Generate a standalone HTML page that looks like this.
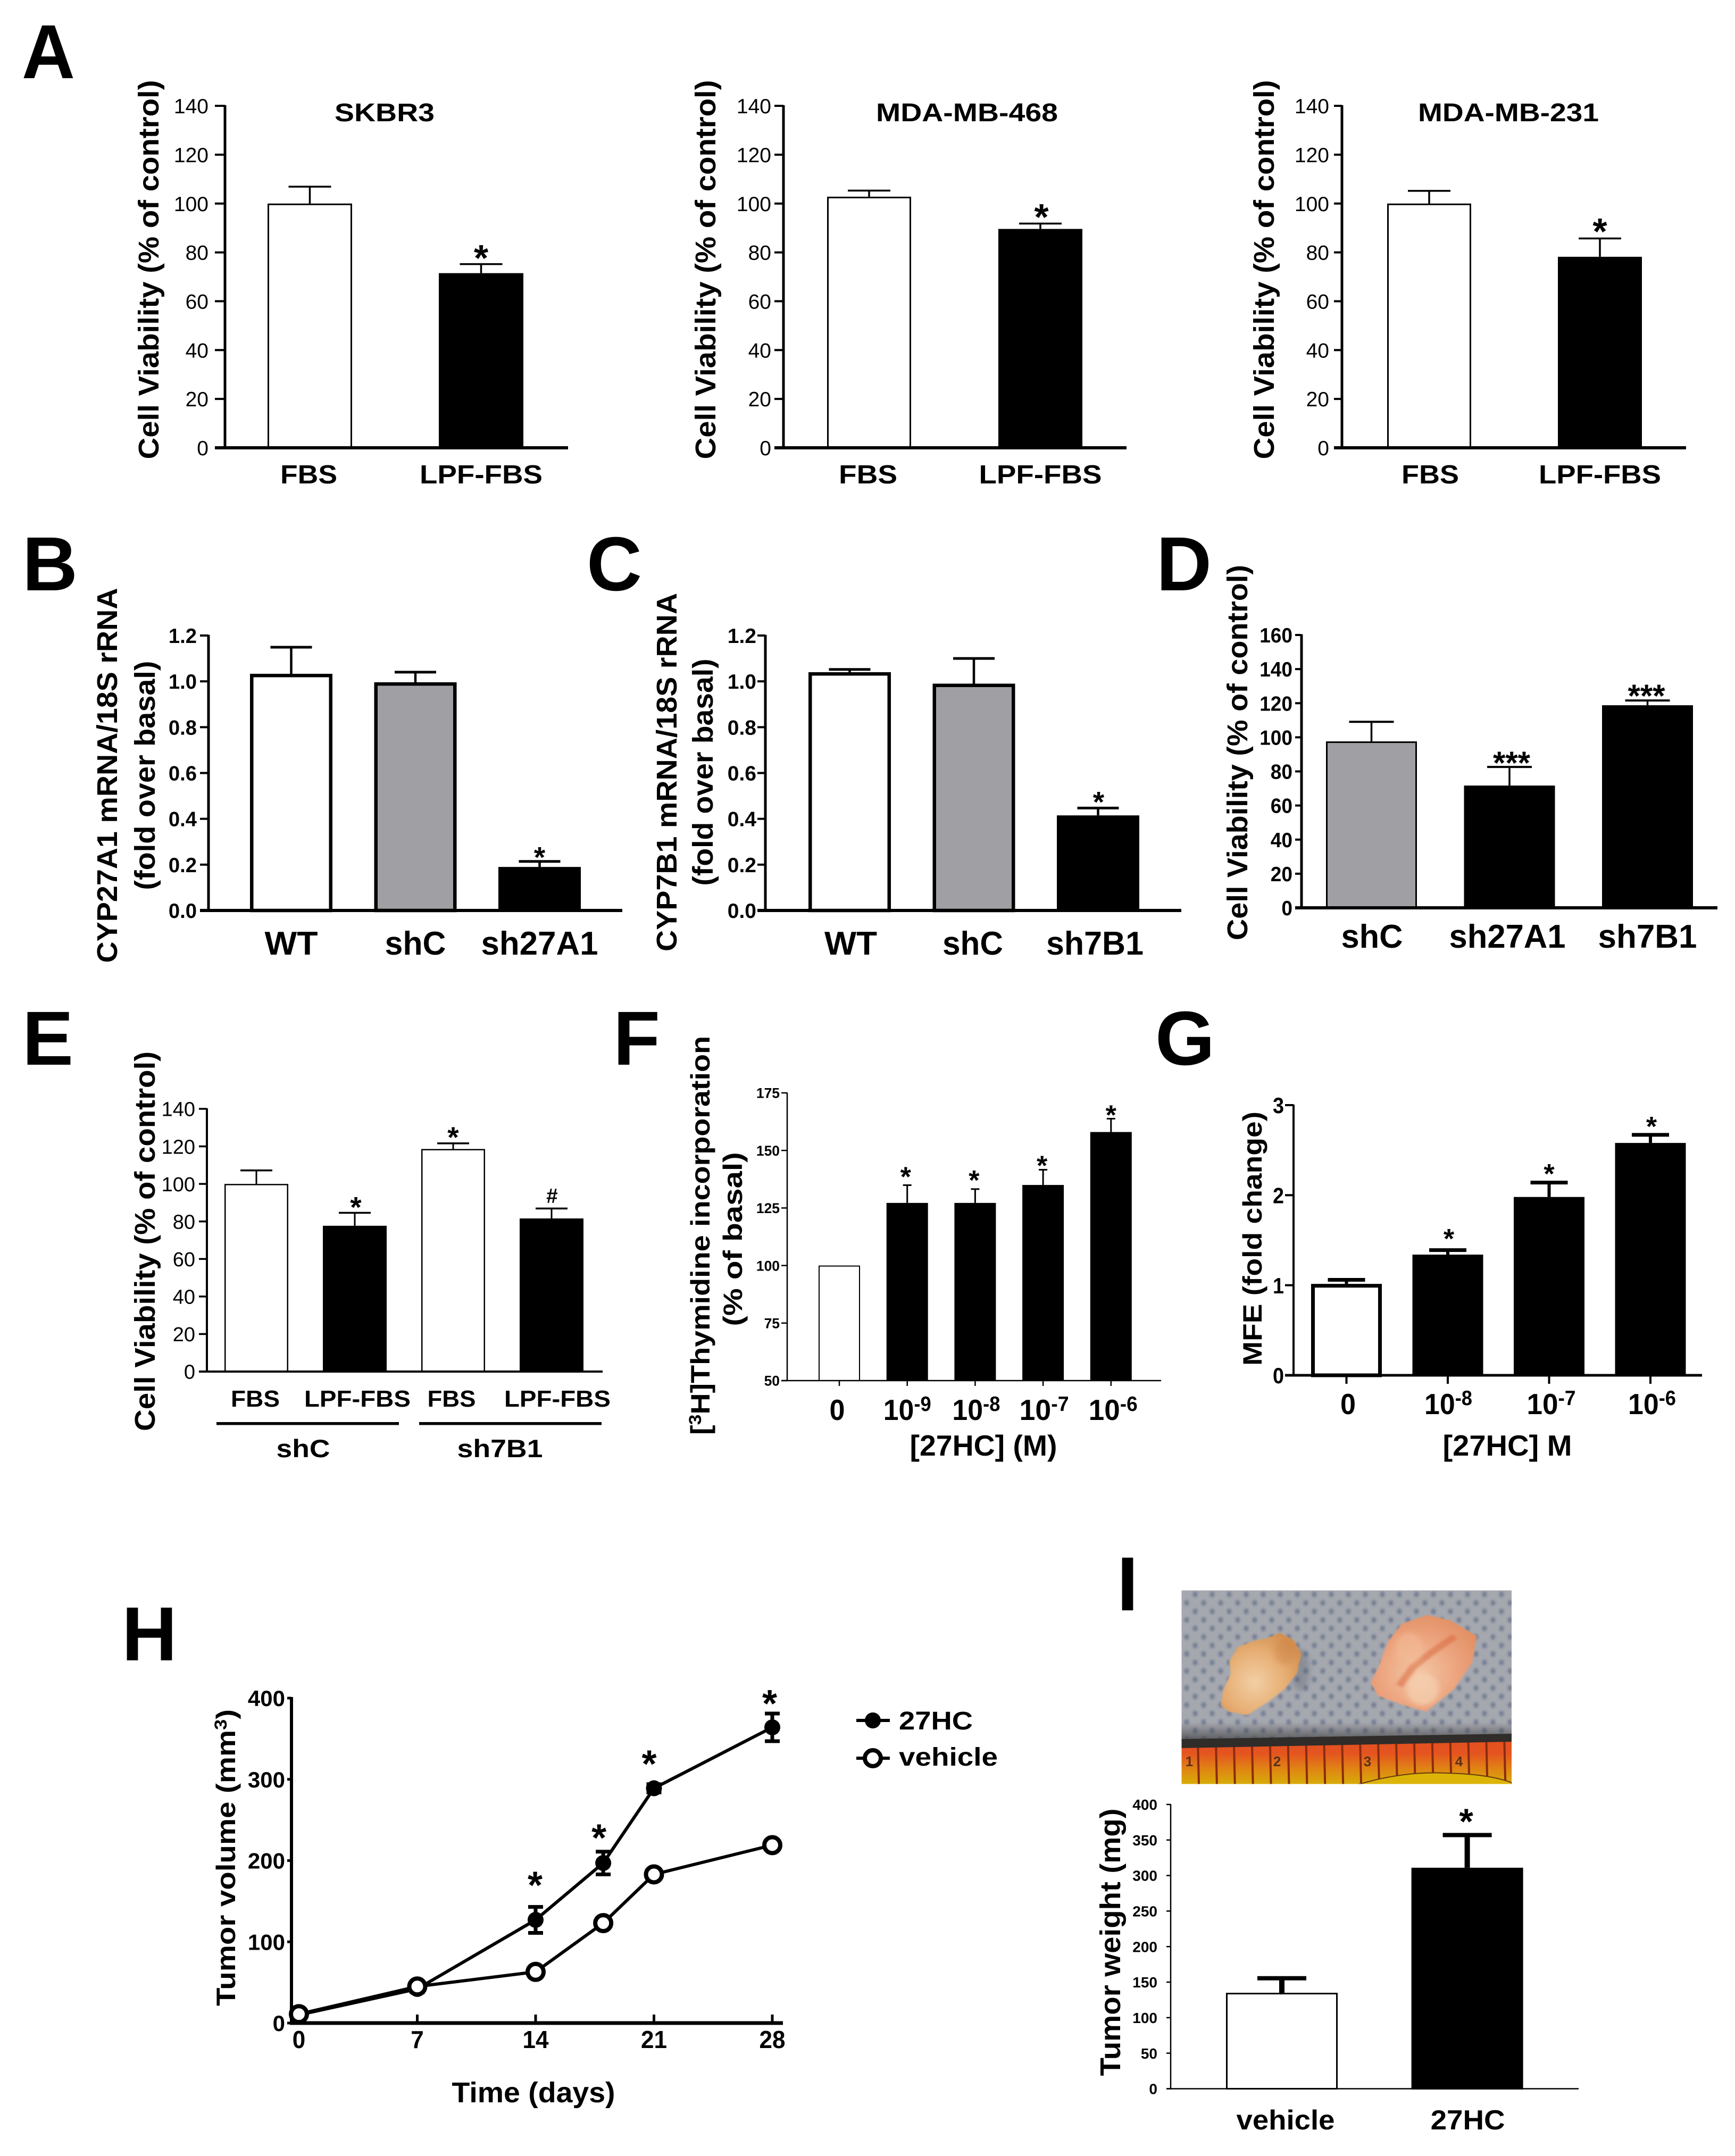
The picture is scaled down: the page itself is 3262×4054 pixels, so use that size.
<!DOCTYPE html>
<html lang="en">
<head>
<meta charset="utf-8">
<title>27HC multi-panel figure</title>
<style>
html,body{margin:0;padding:0;background:#fff;}
svg{display:block;}
text{font-family:"Liberation Sans",Arial,sans-serif;fill:#000;}
.b{font-weight:bold;}
.letter{font-weight:bold;font-size:144px;text-anchor:middle;}
.ylab{font-weight:bold;text-anchor:middle;}
.title{font-weight:bold;font-size:48px;text-anchor:middle;}
</style>
</head>
<body>
<svg id="fig" xmlns="http://www.w3.org/2000/svg" width="3262" height="4054" viewBox="0 0 3262 4054">
<defs>
<pattern id="meshDots" patternUnits="userSpaceOnUse" width="32" height="32" patternTransform="translate(2239,2990)">
<ellipse cx="8" cy="8" rx="4.6" ry="5.4" fill="#566680"/>
<ellipse cx="24" cy="24" rx="4.6" ry="5.4" fill="#566680"/>
</pattern>
<filter id="blur2" x="-10%" y="-10%" width="120%" height="120%"><feGaussianBlur stdDeviation="2"/></filter>
<filter id="blur3" x="-20%" y="-20%" width="140%" height="140%"><feGaussianBlur stdDeviation="2.8"/></filter>
<filter id="blur5" x="-40%" y="-40%" width="180%" height="180%"><feGaussianBlur stdDeviation="6"/></filter>
<filter id="blur8" x="-40%" y="-40%" width="180%" height="180%"><feGaussianBlur stdDeviation="12"/></filter>
<linearGradient id="rulerGrad" x1="0" y1="0" x2="0" y2="1">
<stop offset="0" stop-color="#e2501f"/><stop offset=".3" stop-color="#e45420"/><stop offset=".65" stop-color="#e08414"/><stop offset="1" stop-color="#d8ac08"/>
</linearGradient>
<linearGradient id="shadeGrad" x1="0" y1="0" x2="0" y2="1">
<stop offset="0" stop-color="#333" stop-opacity="0"/><stop offset="1" stop-color="#333" stop-opacity=".65"/>
</linearGradient>
<radialGradient id="tumorL" cx=".42" cy=".6" r=".65">
<stop offset="0" stop-color="#f3cfa5"/><stop offset=".6" stop-color="#e6ad72"/><stop offset="1" stop-color="#d39050"/>
</radialGradient>
<radialGradient id="tumorR" cx=".45" cy=".6" r=".65">
<stop offset="0" stop-color="#f4c6a4"/><stop offset=".6" stop-color="#eba27c"/><stop offset="1" stop-color="#e28f62"/>
</radialGradient>
<clipPath id="photoClip"><rect x="2221.5" y="2990.5" width="620.5" height="364"/></clipPath>
</defs>
<rect x="0" y="0" width="3262" height="4054" fill="#fff"/>

<!-- panel letters -->
<text class="letter" x="91" y="147" textLength="100" lengthAdjust="spacingAndGlyphs">A</text>
<text class="letter" x="94" y="1110">B</text>
<text class="letter" x="1155" y="1110">C</text>
<text class="letter" x="2226" y="1110">D</text>
<text class="letter" x="90" y="2002">E</text>
<text class="letter" x="1197" y="2002">F</text>
<text class="letter" x="2228" y="2002">G</text>
<text class="letter" x="281" y="3122">H</text>
<text class="letter" x="2120" y="3028">I</text>

<!-- chart titles -->
<text class="title" x="723" y="228" textLength="188" lengthAdjust="spacingAndGlyphs">SKBR3</text>
<text class="title" x="1818" y="228" textLength="342" lengthAdjust="spacingAndGlyphs">MDA-MB-468</text>
<text class="title" x="2836" y="228" textLength="340" lengthAdjust="spacingAndGlyphs">MDA-MB-231</text>

<!-- axis titles -->
<text class="ylab" font-size="54" transform="translate(298,507) rotate(-90)" textLength="713" lengthAdjust="spacingAndGlyphs">Cell Viability (% of control)</text>
<text class="ylab" font-size="54" transform="translate(1345,507) rotate(-90)" textLength="713" lengthAdjust="spacingAndGlyphs">Cell Viability (% of control)</text>
<text class="ylab" font-size="54" transform="translate(2395,507) rotate(-90)" textLength="713" lengthAdjust="spacingAndGlyphs">Cell Viability (% of control)</text>
<text class="ylab" font-size="54" transform="translate(220,1458) rotate(-90)" textLength="705" lengthAdjust="spacingAndGlyphs">CYP27A1 mRNA/18S rRNA</text>
<text class="ylab" font-size="54" transform="translate(291,1458) rotate(-90)" textLength="431" lengthAdjust="spacingAndGlyphs">(fold over basal)</text>
<text class="ylab" font-size="54" transform="translate(1272,1452) rotate(-90)" textLength="674" lengthAdjust="spacingAndGlyphs">CYP7B1 mRNA/18S rRNA</text>
<text class="ylab" font-size="54" transform="translate(1340,1452) rotate(-90)" textLength="427" lengthAdjust="spacingAndGlyphs">(fold over basal)</text>
<text class="ylab" font-size="54" transform="translate(2345,1415) rotate(-90)" textLength="706" lengthAdjust="spacingAndGlyphs">Cell Viability (% of control)</text>
<text class="ylab" font-size="54" transform="translate(291,2334) rotate(-90)" textLength="714" lengthAdjust="spacingAndGlyphs">Cell Viability (% of control)</text>
<text class="ylab" font-size="50" transform="translate(1334,2323) rotate(-90)" textLength="750" lengthAdjust="spacingAndGlyphs">[<tspan font-size="32" dy="-16">3</tspan><tspan dy="16">H]Thymidine incorporation</tspan></text>
<text class="ylab" font-size="50" transform="translate(1395,2330) rotate(-90)" textLength="327" lengthAdjust="spacingAndGlyphs">(% of basal)</text>
<text class="ylab" font-size="50" transform="translate(2372,2329) rotate(-90)" textLength="478" lengthAdjust="spacingAndGlyphs">MFE (fold change)</text>
<text class="ylab" font-size="50" transform="translate(442,3493) rotate(-90)" textLength="558" lengthAdjust="spacingAndGlyphs">Tumor volume (mm<tspan font-size="32" dy="-16">3</tspan><tspan dy="16">)</tspan></text>
<text class="ylab" font-size="54" transform="translate(2106,3652) rotate(-90)" textLength="503" lengthAdjust="spacingAndGlyphs">Tumor weight (mg)</text>

<text class="b" font-size="55" x="1849" y="2737" text-anchor="middle" textLength="277" lengthAdjust="spacingAndGlyphs">[27HC] (M)</text>
<text class="b" font-size="55" x="2834" y="2737" text-anchor="middle" textLength="243" lengthAdjust="spacingAndGlyphs">[27HC] M</text>
<text class="b" font-size="54" x="1003" y="3953" text-anchor="middle" textLength="307" lengthAdjust="spacingAndGlyphs">Time (days)</text>

<!-- panel E grouping -->
<rect x="407" y="2674" width="343" height="5.5" fill="#000"/>
<rect x="788" y="2674" width="343" height="5.5" fill="#000"/>
<text class="b" font-size="47" x="570" y="2740" text-anchor="middle" textLength="101" lengthAdjust="spacingAndGlyphs">shC</text>
<text class="b" font-size="47" x="940" y="2740" text-anchor="middle" textLength="161" lengthAdjust="spacingAndGlyphs">sh7B1</text>

<!-- panel H legend -->
<g>
<g>
<line x1="1610" x2="1673" y1="3235" y2="3235" stroke="#000" stroke-width="6"/>
<circle cx="1641" cy="3235" r="15" fill="#000"/>
<text class="b" font-size="48" x="1690" y="3252" textLength="139" lengthAdjust="spacingAndGlyphs">27HC</text>
</g>
<g>
<line x1="1610" x2="1673" y1="3306" y2="3306" stroke="#000" stroke-width="6"/>
<circle cx="1641" cy="3306" r="15" fill="#fff" stroke="#000" stroke-width="8"/>
<text class="b" font-size="48" x="1690" y="3320" textLength="186" lengthAdjust="spacingAndGlyphs">vehicle</text>
</g>
</g>

<!-- panel I tumor photograph, drawn as vector shapes -->
<g clip-path="url(#photoClip)">
<rect x="2221.5" y="2990.5" width="620.5" height="364" fill="#a6a8b0"/>
<rect x="2200" y="2980" width="660" height="290" fill="url(#meshDots)" filter="url(#blur2)" opacity=".62"/>
<rect x="2221.5" y="3238" width="620.5" height="34" fill="url(#shadeGrad)"/>
<g transform="translate(2150,2920) scale(.43365,.33333)">
<ellipse cx="680" cy="660" rx="40" ry="120" fill="#4c5566" opacity=".3" filter="url(#blur8)"/>
<path d="M590 450 L650 490 L685 570 L665 680 L610 770 L540 840 L450 915 L370 895 L335 860 L345 780 L378 680 L372 610 L410 530 L480 495 L540 480 Z" fill="url(#tumorL)" filter="url(#blur3)"/>
<ellipse cx="610" cy="560" rx="45" ry="70" fill="#c9783e" opacity=".3" filter="url(#blur8)"/>
<path d="M1230 350 L1330 380 L1445 470 L1425 620 L1345 770 L1225 895 L1130 860 L1015 805 L985 730 L1020 640 L1060 500 L1120 400 Z" fill="url(#tumorR)" filter="url(#blur3)"/>
<path d="M1350 470 L1250 560 L1170 640 L1110 750" fill="none" stroke="#d8643a" stroke-width="34" opacity=".5" filter="url(#blur5)"/>
<ellipse cx="1210" cy="770" rx="70" ry="90" fill="#f6d3b4" opacity=".7" filter="url(#blur8)"/>
<ellipse cx="1150" cy="540" rx="60" ry="90" fill="#f3bb96" opacity=".6" filter="url(#blur8)"/>
</g>
<rect x="2221.5" y="3272" width="620.5" height="83" fill="url(#rulerGrad)"/>
<g id="rulerTicks"></g>
<polygon points="2221,3270 2842,3260 2842,3275 2221,3287" fill="#2f2c2a"/>
<path d="M2555 3355 Q2640 3330 2720 3334 Q2800 3336 2842 3352 L2842 3356 L2555 3356 Z" fill="#dcb408" stroke="#6a3a10" stroke-width="2"/>
<text x="2236" y="3321" font-size="26" class="b" text-anchor="middle" style="fill:#5a3018">1</text>
<text x="2401" y="3321" font-size="26" class="b" text-anchor="middle" style="fill:#5a3018">2</text>
<text x="2571" y="3321" font-size="26" class="b" text-anchor="middle" style="fill:#5a3018">3</text>
<text x="2743" y="3321" font-size="26" class="b" text-anchor="middle" style="fill:#5a3018">4</text>
</g>
</svg>

<script>
// ---------- chart data ----------
const aTicks = [0, 20, 40, 60, 80, 100, 120, 140];
const aCategories = ['FBS', 'LPF-FBS'];
const a1Values = [100, 71.5];
const a1Errors = [6.9, 3.7];
const a1Marks = ['', '*'];
const a2Values = [102.8, 89.6];
const a2Errors = [2.5, 2.2];
const a2Marks = ['', '*'];
const a3Values = [100, 78.2];
const a3Errors = [5.2, 7.5];
const a3Marks = ['', '*'];

const bTicks = [0, 0.2, 0.4, 0.6, 0.8, 1.0, 1.2];
const bCategories = ['WT', 'shC', 'sh27A1'];
const bValues = [1.033, 0.996, 0.19];
const bErrors = [0.116, 0.044, 0.024];
const bMarks = ['', '', '*'];

const cTicks = [0, 0.2, 0.4, 0.6, 0.8, 1.0, 1.2];
const cCategories = ['WT', 'shC', 'sh7B1'];
const cValues = [1.04, 0.99, 0.415];
const cErrors = [0.012, 0.11, 0.032];
const cMarks = ['', '', '*'];

const dTicks = [0, 20, 40, 60, 80, 100, 120, 140, 160];
const dCategories = ['shC', 'sh27A1', 'sh7B1'];
const dValues = [97.6, 71.7, 118.8];
const dErrors = [11.5, 10.9, 2.8];
const dMarks = ['', '***', '***'];

const eTicks = [0, 20, 40, 60, 80, 100, 120, 140];
const eCategories = ['FBS', 'LPF-FBS', 'FBS', 'LPF-FBS'];
const eValues = [100, 77.7, 118.6, 81.6];
const eErrors = [7.2, 6.9, 3, 5.3];
const eMarks = ['', '*', '*', '#'];

const fTicks = [50, 75, 100, 125, 150, 175];
const fCategories = ['0', '10^-9', '10^-8', '10^-7', '10^-6'];
const fValues = [100, 127.2, 127.2, 135, 158];
const fErrors = [0, 7.7, 6, 6.6, 5.8];
const fMarks = ['', '*', '*', '*', '*'];

const gTicks = [0, 1, 2, 3];
const gCategories = ['0', '10^-8', '10^-7', '10^-6'];
const gValues = [1.015, 1.34, 1.98, 2.58];
const gErrors = [0.045, 0.05, 0.16, 0.09];
const gMarks = ['', '*', '*', '*'];

const iTicks = [0, 50, 100, 150, 200, 250, 300, 350, 400];
const iCategories = ['vehicle', '27HC'];
const iValues = [135, 311];
const iErrors = [20.5, 46];
const iMarks = ['', '*'];

const hDays = [0, 7, 14, 18, 21, 28];
const hXTickLabels = [0, 7, 14, 21, 28];
const hYTicks = [0, 100, 200, 300, 400];
const h27hcValues = [10, 42, 127, 197, 289, 364];
const h27hcErrors = [2, 4, 16, 14, 5, 17];
const hVehicleValues = [11, 45, 63, 123, 183, 219];
const hVehicleErrors = [1, 2, 3, 4, 4, 3];
const hMarks = ['', '', '*', '*', '*', '*'];

// ---------- drawing helpers ----------
const NS = 'http://www.w3.org/2000/svg';
const fig = document.getElementById('fig');

function svgEl(tag, parent, attrs) {
  const node = document.createElementNS(NS, tag);
  for (const k in attrs) node.setAttribute(k, attrs[k]);
  parent.appendChild(node);
  return node;
}
function slug(s) {
  return String(s).toLowerCase().replace(/[^a-z0-9]+/g, '-');
}
function linearScale(d0, d1, r0, r1) {
  return function (v) { return r0 + (v - d0) / (d1 - d0) * (r1 - r0); };
}
function fmtTick(v, decimals) {
  return decimals ? v.toFixed(decimals) : String(v);
}
function putExponentLabel(node, str, supSize, supRise) {
  const parts = String(str).split('^');
  const base = svgEl('tspan', node, {});
  base.textContent = parts[0];
  if (parts.length > 1) {
    const sup = svgEl('tspan', node, { 'font-size': supSize, dy: -supRise });
    sup.textContent = parts[1];
  }
}
function drawMark(g, symbol, cx, cy, size, idx) {
  if (!symbol) return;
  const isHash = symbol === '#';
  const s = isHash ? size * 0.7 : size;
  const t = svgEl('text', g, {
    x: cx, y: cy + s * (isHash ? 0.36 : 0.58), 'font-size': s, 'text-anchor': 'middle', 'font-weight': 'bold'
  });
  t.textContent = symbol;
  
  
}

function drawBarChart(layout, categories, values, errors, marks, ticks) {
  const g = svgEl('g', fig, {});
  
  

  const y = linearScale(ticks[0], ticks[ticks.length - 1], layout.bottom, layout.top);
  const barX = function (i) { return layout.barLeft + i * layout.pitch; };

  categories.forEach(function (cat, i) {
    const sw = layout.barStroke[i];
    const yv = y(values[i]);
    const cx = barX(i) + layout.barWidth / 2;

    if (errors[i] > 0) {
      const yTop = y(values[i] + errors[i]);
      const stem = svgEl('line', g, { x1: cx, x2: cx, y1: yv, y2: yTop, stroke: '#000', 'stroke-width': layout.errStem });
      
      
      const cap = svgEl('line', g, { x1: cx - layout.capHalf, x2: cx + layout.capHalf, y1: yTop, y2: yTop, stroke: '#000', 'stroke-width': layout.capThick });
      
      
    }

    const bar = svgEl('rect', g, {
      x: barX(i) + sw / 2, y: yv + sw / 2,
      width: layout.barWidth - sw, height: Math.max(0, layout.bottom - yv - sw / 2),
      fill: layout.fills[i], stroke: '#000', 'stroke-width': sw
    });
    
    

    if (layout.xTickLen) {
      const xt = svgEl('line', g, { x1: cx, x2: cx, y1: layout.bottom, y2: layout.bottom + layout.xTickLen, stroke: '#000', 'stroke-width': layout.tickW });
      
      
    }

    const lab = svgEl('text', g, {
      x: cx + layout.catDx[i], y: layout.catBaseline, 'font-size': layout.catSize,
      'font-weight': 'bold', 'text-anchor': 'middle',
      textLength: layout.catWidths[i], lengthAdjust: 'spacingAndGlyphs'
    });
    putExponentLabel(lab, cat, layout.catSize * 0.7, layout.catSize * 0.31);
    
    

    if (errors[i] >= 0) {
      drawMark(g, marks[i], cx + layout.markDx[i], y(values[i] + errors[i]) - layout.markGaps[i], layout.markSize, i);
    }
  });

  const yAxis = svgEl('line', g, { x1: layout.x0, x2: layout.x0, y1: layout.top - layout.axisW / 4, y2: layout.bottom + layout.axisW / 2, stroke: '#000', 'stroke-width': layout.axisW });
  
  
  const xAxis = svgEl('line', g, { x1: layout.tickLeft, x2: layout.right, y1: layout.bottom, y2: layout.bottom, stroke: '#000', 'stroke-width': layout.axisH });
  
  

  ticks.forEach(function (v) {
    const yt = y(v);
    const tick = svgEl('line', g, { x1: layout.tickLeft, x2: layout.x0, y1: yt, y2: yt, stroke: '#000', 'stroke-width': layout.tickW });
    
    
    const lab = svgEl('text', g, {
      transform: 'translate(' + layout.tickRight + ',' + (yt + layout.tickSize * 0.36) + ') scale(' + layout.tickScale + ',1)',
      'font-size': layout.tickSize, 'font-weight': layout.tickWeight, 'text-anchor': 'end'
    });
    lab.textContent = fmtTick(v, layout.decimals);
    
    
  });
}

function drawLineChart() {
  const layout = { x0: 548, top: 3193, bottom: 3804, tickLeft: 532, right: 1472, dayLeft: 562, dayRight: 1452 };
  const g = svgEl('g', fig, {});
  
  
  const x = linearScale(0, 28, layout.dayLeft, layout.dayRight);
  const y = linearScale(0, 400, layout.bottom, layout.top);

  hYTicks.forEach(function (v) {
    const tick = svgEl('line', g, { x1: layout.tickLeft + 8, x2: layout.x0, y1: y(v), y2: y(v), stroke: '#000', 'stroke-width': 5 });
    
    
    const lab = svgEl('text', g, { x: 536, y: y(v) + 15, 'font-size': 42, 'font-weight': 'bold', 'text-anchor': 'end' });
    lab.textContent = String(v);
    
    
  });
  hXTickLabels.forEach(function (d) {
    const tick = svgEl('line', g, { x1: x(d), x2: x(d), y1: layout.bottom - 16, y2: layout.bottom, stroke: '#000', 'stroke-width': 5 });
    
    
    const lab = svgEl('text', g, { x: x(d), y: 3851, 'font-size': 46, 'font-weight': 'bold', 'text-anchor': 'middle', textLength: 24.5 * String(d).length, lengthAdjust: 'spacingAndGlyphs' });
    lab.textContent = String(d);
    
    
  });
  const yAxis = svgEl('line', g, { x1: layout.x0, x2: layout.x0, y1: layout.top - 2, y2: layout.bottom + 3, stroke: '#000', 'stroke-width': 6 });
  
  
  const xAxis = svgEl('line', g, { x1: layout.x0 - 3, x2: layout.right, y1: layout.bottom, y2: layout.bottom, stroke: '#000', 'stroke-width': 7 });
  
  

  function series(name, values, errors, filled) {
    const sg = svgEl('g', g, {});
    
    
    const pts = hDays.map(function (d, i) { return x(d) + ',' + y(values[i]); }).join(' ');
    const line = svgEl('polyline', sg, { points: pts, fill: 'none', stroke: '#000', 'stroke-width': 6 });
    
    
    hDays.forEach(function (d, i) {
      const cx = x(d);
      const hi = y(values[i] + errors[i]);
      const lo = y(values[i] - errors[i]);
      const err = svgEl('path', sg, {
        d: 'M' + (cx - 14) + ' ' + hi + 'H' + (cx + 14) + 'M' + cx + ' ' + hi + 'V' + lo + 'M' + (cx - 14) + ' ' + lo + 'H' + (cx + 14),
        fill: 'none', stroke: '#000', 'stroke-width': 7
      });
      
      
    });
    hDays.forEach(function (d, i) {
      const dot = svgEl('circle', sg, {
        cx: x(d), cy: y(values[i]), r: 15,
        fill: filled ? '#000' : '#fff', stroke: '#000', 'stroke-width': filled ? 0 : 8
      });
      
      
    });
  }
  series('27hc', h27hcValues, h27hcErrors, true);
  series('vehicle', hVehicleValues, hVehicleErrors, false);

  const markGaps = [0, 0, 58, 43, 55, 36];
  const markDx = [0, 0, -1, -8, -9, -5];
  hDays.forEach(function (d, i) {
    if (!hMarks[i]) return;
    drawMark(g, hMarks[i], x(d) + markDx[i], y(h27hcValues[i] + h27hcErrors[i]) - markGaps[i], 72, 'day-' + d);
  });
}

function drawRulerTicks() {
  const g = document.getElementById('rulerTicks');
  for (let i = 0; i < 18; i++) {
    const xr = 2253 + i * 33.9;
    const t = svgEl('line', g, { x1: xr - 1, x2: xr + 1, y1: 3270, y2: 3356, stroke: '#8a2c10', 'stroke-width': 4 });
    
    
  }
}

// ---------- panel layouts ----------
const layoutA = { axisW: 5, axisH: 6, tickW: 4, tickSize: 39, tickWeight: 'normal', tickScale: 1, decimals: 0,
  top: 199, bottom: 842, fills: ['#fff', '#000'], barStroke: [3, 3], errStem: 3.5, capThick: 3.5, capHalf: 40,
  catSize: 49, catBaseline: 909, markSize: 70 };

drawBarChart(Object.assign({}, layoutA, { id: 'a1-skbr3', x0: 423, tickLeft: 404, right: 1068, tickRight: 392,
  barLeft: 503, barWidth: 159, pitch: 322, catDx: [-2, 0], catWidths: [107, 231], markDx: [0, 0], markGaps: [0, 28] }),
  aCategories, a1Values, a1Errors, a1Marks, aTicks);
drawBarChart(Object.assign({}, layoutA, { id: 'a2-mda-mb-468', x0: 1473, tickLeft: 1456, right: 2118, tickRight: 1450,
  barLeft: 1555, barWidth: 158, pitch: 322, catDx: [-2, 0], catWidths: [110, 231], markDx: [0, 2], markGaps: [0, 29] }),
  aCategories, a2Values, a2Errors, a2Marks, aTicks);
drawBarChart(Object.assign({}, layoutA, { id: 'a3-mda-mb-231', x0: 2523, tickLeft: 2508, right: 3170, tickRight: 2499,
  barLeft: 2608, barWidth: 158, pitch: 321, catDx: [2, 0], catWidths: [108, 230], markDx: [0, 0], markGaps: [0, 30] }),
  aCategories, a3Values, a3Errors, a3Marks, aTicks);

drawBarChart({ id: 'b-cyp27a1', x0: 392, top: 1195, bottom: 1712, tickLeft: 376, right: 1170, tickRight: 370,
  axisW: 5, axisH: 6, tickW: 4, tickSize: 39, tickWeight: 'bold', tickScale: 0.98, decimals: 1,
  barLeft: 470, barWidth: 155, pitch: 233.5, fills: ['#fff', '#a0a0a4', '#000'], barStroke: [6.5, 6.5, 2],
  errStem: 4.5, capThick: 5, capHalf: 39, catSize: 62, catBaseline: 1795, catDx: [0, 0, 0], catWidths: [100, 115, 220],
  markDx: [0, 0, 0], markGaps: [0, 0, 21], markSize: 55 }, bCategories, bValues, bErrors, bMarks, bTicks);

drawBarChart({ id: 'c-cyp7b1', x0: 1439, top: 1195, bottom: 1712, tickLeft: 1424, right: 2221, tickRight: 1422,
  axisW: 5, axisH: 6, tickW: 4, tickSize: 39, tickWeight: 'bold', tickScale: 1, decimals: 1,
  barLeft: 1520, barWidth: 155, pitch: 233.5, fills: ['#fff', '#a0a0a4', '#000'], barStroke: [6.5, 6.5, 2],
  errStem: 4.5, capThick: 5, capHalf: 39, catSize: 62, catBaseline: 1795, catDx: [2, -2, -6], catWidths: [99, 114, 183],
  markDx: [0, 0, 1], markGaps: [0, 0, 25], markSize: 55 }, cCategories, cValues, cErrors, cMarks, cTicks);

drawBarChart({ id: 'd-viability', x0: 2447, top: 1194, bottom: 1707, tickLeft: 2435, right: 3229, tickRight: 2430,
  axisW: 5, axisH: 6, tickW: 4, tickSize: 39, tickWeight: 'bold', tickScale: 0.95, decimals: 0,
  barLeft: 2493, barWidth: 171, pitch: 259.5, fills: ['#a0a0a4', '#000', '#000'], barStroke: [3, 3, 3],
  errStem: 3.5, capThick: 4, capHalf: 42, catSize: 62, catBaseline: 1782, catDx: [1, -4, 0], catWidths: [116, 219, 186],
  markDx: [0, 4, -2], markGaps: [0, 22, 23], markSize: 60 }, dCategories, dValues, dErrors, dMarks, dTicks);

drawBarChart({ id: 'e-viability', x0: 389, top: 2085, bottom: 2579, tickLeft: 374, right: 1133, tickRight: 367,
  axisW: 4, axisH: 4, tickW: 3.5, tickSize: 38, tickWeight: 'normal', tickScale: 1, decimals: 0,
  barLeft: 422, barWidth: 120, pitch: 185, fills: ['#fff', '#000', '#fff', '#000'], barStroke: [2.5, 2.5, 2.5, 2.5],
  errStem: 3, capThick: 3.5, capHalf: 30, catSize: 44, catBaseline: 2645, catDx: [-2, 5, -3, 11], catWidths: [92, 200, 91, 200],
  markDx: [0, 2, 0, 1], markGaps: [0, 24, 25, 24], markSize: 55 }, eCategories, eValues, eErrors, eMarks, eTicks);

drawBarChart({ id: 'f-thymidine', x0: 1480, top: 2055, bottom: 2596, tickLeft: 1469, right: 2183, tickRight: 1466,
  axisW: 2.5, axisH: 2.5, tickW: 2.5, tickSize: 27, tickWeight: 'bold', tickScale: 0.98, decimals: 0,
  barLeft: 1539, barWidth: 78, pitch: 127.7, fills: ['#fff', '#000', '#000', '#000', '#000'], barStroke: [2, 2, 2, 2, 2],
  errStem: 3, capThick: 3, capHalf: 8, catSize: 55, catBaseline: 2670, catDx: [-4, 0, 2, 2, 4], catWidths: [29, 90, 90, 93, 92], xTickLen: 10,
  markDx: [0, -3, -2, -2, 0], markGaps: [0, 28, 29, 20, 19], markSize: 52 }, fCategories, fValues, fErrors, fMarks, fTicks);

drawBarChart({ id: 'g-mfe', x0: 2432, top: 2078, bottom: 2586, tickLeft: 2416, right: 3200, tickRight: 2414,
  axisW: 4, axisH: 5, tickW: 4, tickSize: 42, tickWeight: 'bold', tickScale: 0.9, decimals: 0,
  barLeft: 2465, barWidth: 133, pitch: 190.5, fills: ['#fff', '#000', '#000', '#000'], barStroke: [7, 3, 3, 3],
  errStem: 6, capThick: 7, capHalf: 35, catSize: 55, catBaseline: 2659, catDx: [3, 1, 4, 3], catWidths: [29, 90, 92, 90], xTickLen: 16,
  markDx: [0, 2, 0, 2], markGaps: [0, 34, 29, 28], markSize: 52 }, gCategories, gValues, gErrors, gMarks, gTicks);

drawBarChart({ id: 'i-tumor-weight', x0: 2201, top: 3393, bottom: 3927.5, tickLeft: 2193, right: 2968, tickRight: 2176,
  axisW: 2.5, axisH: 2.5, tickW: 2.5, tickSize: 28, tickWeight: 'bold', tickScale: 1, decimals: 0,
  barLeft: 2305, barWidth: 210, pitch: 348.6, fills: ['#fff', '#000'], barStroke: [3, 3],
  errStem: 10, capThick: 8, capHalf: 46, catSize: 52, catBaseline: 4004, catDx: [7, 1], catWidths: [185, 140],
  markDx: [0, -2], markGaps: [0, 42], markSize: 68 }, iCategories, iValues, iErrors, iMarks, iTicks);

drawLineChart();
drawRulerTicks();
</script>
</body>
</html>
